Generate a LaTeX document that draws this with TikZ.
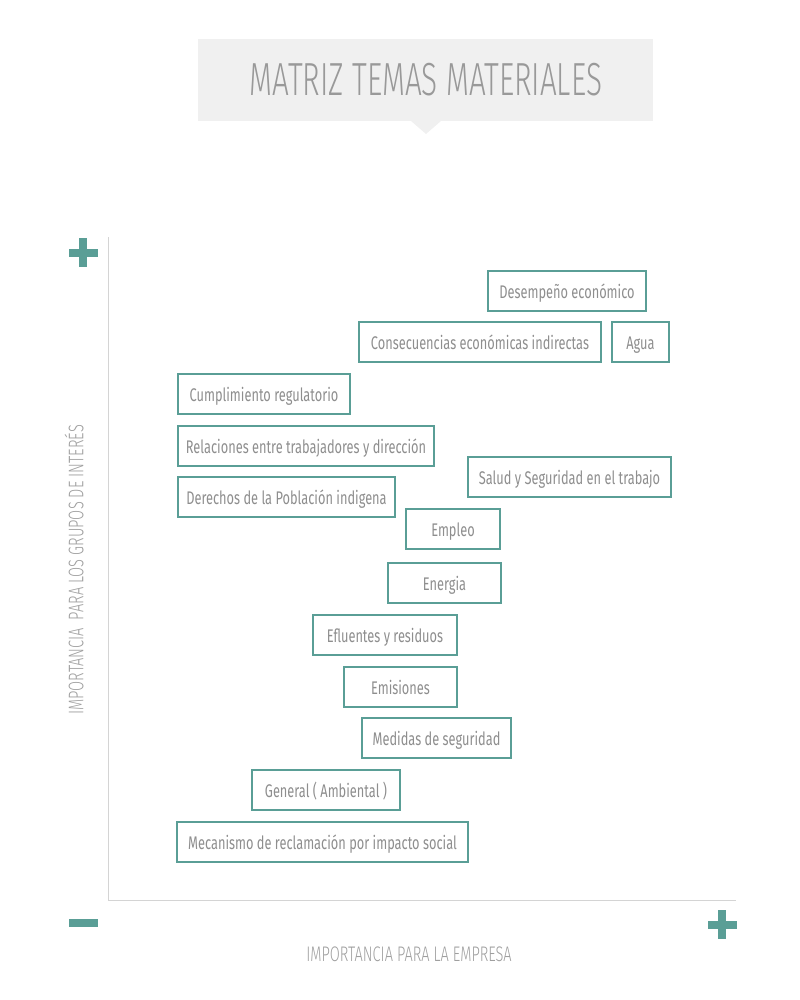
\documentclass[tikz,border=0pt]{standalone}
\usepackage{fontspec}
\setmainfont{Fira Sans}[FakeStretch=0.70]
\newfontfamily\titlefont{Fira Sans Light}[FakeStretch=0.64]
\newfontfamily\labelfont{Fira Sans Light}[FakeStretch=0.69]
\usepackage{tikz}

\definecolor{teal1}{HTML}{5A9E96}
\definecolor{txtgray}{HTML}{8E8E8E}
\definecolor{boxgray}{HTML}{F0F0F0}
\definecolor{axisgray}{HTML}{D4D4D4}

\tikzset{
  topic/.style={draw=teal1, line width=1.4pt, minimum height=1cm, inner sep=0pt,
    text height=11pt, text depth=1pt,
    text=txtgray, font=\fontsize{13}{15}\selectfont},
  sign/.style={draw=teal1, line width=0.2cm},
  axislabel/.style={text=txtgray!85, font=\labelfont\fontsize{15}{17}\selectfont}
}

\begin{document}
\begin{tikzpicture}[x=0.025cm, y=-0.025cm]
			\useasboundingbox (0,0) rectangle (800,1000);
			% titulo
			\fill[boxgray] (198,39) rectangle (653,121);
			\fill[boxgray] (411,121) -- (426,134) -- (441,121) -- cycle;
			\node[text=txtgray!90, font=\titlefont\fontsize{33}{36}\selectfont] (titulo) at (426,80) {MATRIZ TEMAS MATERIALES};
			
			% ejes
			\draw[axisgray, line width=0.7pt] (108,237) -- (108,900) -- (736,900);
			\draw[sign] (69,252.5) -- (98,252.5);
			\draw[sign] (83,238) -- (83,267);
			\draw[sign] (69,922.5) -- (98,922.5);
			\draw[sign] (708,925) -- (737,925);
			\draw[sign] (722,910) -- (722,939);
			\node[axislabel] (empresa) at (409,954) {IMPORTANCIA PARA LA EMPRESA};
			\node[axislabel, rotate=90] (grupos) at (74,570) {IMPORTANCIA\ \ PARA LOS GRUPOS DE INTERÉS};
			
			% temas
			\node[topic, minimum width=3.95cm] (desempeno) at (567,291) {Desempeño económico};
			\node[topic, minimum width=6.05cm] (consecuencias) at (480,342) {Consecuencias económicas indirectas};
			\node[topic, minimum width=1.425cm] (agua) at (640.5,342) {Agua};
			\node[topic, minimum width=4.3cm] (cumplimiento) at (264,394) {Cumplimiento\ regulatorio};
			\node[topic, minimum width=6.4cm] (relaciones) at (306,446) {Relaciones entre trabajadores y dirección};
			\node[topic, minimum width=5.075cm] (salud) at (569.5,477) {Salud y Seguridad en el trabajo};
			\node[topic, minimum width=5.425cm] (derechos) at (286.5,497) {Derechos de la Población indigena};
			\node[topic, minimum width=2.35cm] (empleo) at (453,529) {Empleo};
			\node[topic, minimum width=2.825cm] (energia) at (444.5,583) {Energia};
			\node[topic, minimum width=3.6cm] (efluentes) at (385,635) {Efluentes y residuos};
			\node[topic, minimum width=2.825cm] (emisiones) at (400.5,687) {Emisiones};
			\node[topic, minimum width=3.725cm] (medidas) at (436.5,738) {Medidas de seguridad};
			\node[topic, minimum width=3.7cm] (general) at (326,790) {General ( Ambiental )};
			\node[topic, minimum width=7.275cm] (mecanismo) at (322.5,842) {Mecanismo de reclamación por impacto social};
		\end{tikzpicture}
\end{document}
